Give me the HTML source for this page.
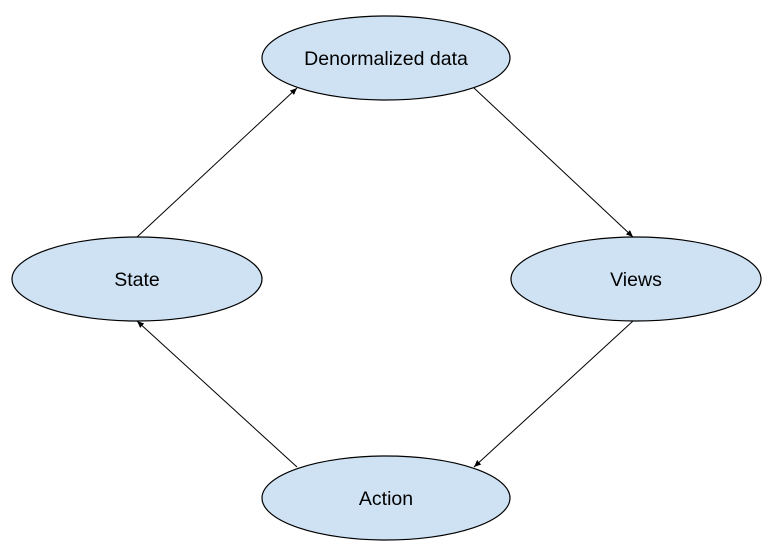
<!DOCTYPE html>
<html><head><style>html,body{margin:0;padding:0;background:#fff;}svg{display:block}</style></head>
<body>
<svg width="770" height="550" viewBox="0 0 770 550" xmlns="http://www.w3.org/2000/svg">
<defs><marker id="a" markerWidth="8" markerHeight="8" refX="7" refY="4" orient="auto" markerUnits="userSpaceOnUse"><path d="M0,1 L7,4 L0,7 z" fill="#000"/></marker></defs>
<g fill="#cfe2f3" stroke="#000" stroke-width="1.2">
<ellipse cx="386" cy="58" rx="124" ry="42"/>
<ellipse cx="137" cy="279" rx="125" ry="42"/>
<ellipse cx="636" cy="279" rx="125" ry="42"/>
<ellipse cx="386" cy="498" rx="124" ry="42"/>
</g>
<g stroke="#000" stroke-width="1" marker-end="url(#a)">
<line x1="137" y1="237" x2="297" y2="88"/>
<line x1="474" y1="88" x2="633" y2="237"/>
<line x1="633" y1="321" x2="474" y2="467"/>
<line x1="297" y1="467" x2="137" y2="321"/>
</g>
<g font-family="Liberation Sans, sans-serif" font-size="19.5" text-anchor="middle" fill="#000">
<text x="386" y="65">Denormalized data</text>
<text x="137" y="286">State</text>
<text x="636" y="286">Views</text>
<text x="386" y="505">Action</text>
</g>
</svg>
</body></html>
